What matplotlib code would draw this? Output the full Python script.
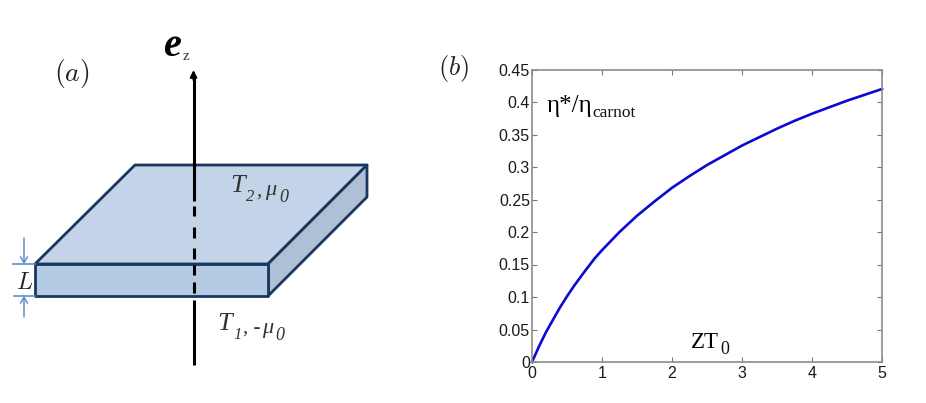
import matplotlib
matplotlib.use('Agg')
import matplotlib.pyplot as plt
from matplotlib.patches import Polygon

plt.rcParams['font.family'] = ['Liberation Sans', 'DejaVu Sans']
plt.rcParams['mathtext.fontset'] = 'cm'

# curve in panel (b)
zt = [0, 0.05, 0.1, 0.2, 0.3, 0.4, 0.5, 0.6, 0.75, 0.9, 1, 1.25, 1.5, 1.75, 2, 2.25, 2.5, 2.75, 3, 3.25, 3.5, 3.75, 4, 4.5, 5]
eta = [0, 0.012, 0.024, 0.046, 0.065, 0.084, 0.101, 0.117, 0.139, 0.16, 0.172, 0.2, 0.225, 0.247, 0.268, 0.286, 0.303, 0.318,
       0.333, 0.346, 0.359, 0.371, 0.382, 0.402, 0.42]
xticks = [0, 1, 2, 3, 4, 5]
yticks = [0, 0.05, 0.1, 0.15, 0.2, 0.25, 0.3, 0.35, 0.4, 0.45]
ylabels = ['0', '0.05', '0.1', '0.15', '0.2', '0.25', '0.3', '0.35', '0.4', '0.45']

# slab sketch in panel (a), image pixels
top_face = [(135, 165), (367, 165), (268, 264), (35, 264)]
front_face = [(35, 264), (268, 264), (268, 296), (35, 296)]
side_face = [(268, 264), (367, 165), (367, 197), (268, 296)]
axis_upper = (77, 201)
axis_dashes = [(206, 216), (227, 238), (248, 259), (265, 275), (282, 293)]
axis_lower = (300, 365)
axis_x = 193.5

W, H = 926, 403
fig = plt.figure(figsize=(W/100, H/100), dpi=100)

# panel (a) drawn in pixel coords
bg = fig.add_axes([0, 0, 1, 1])
bg.set_xlim(0, W)
bg.set_ylim(H, 0)
bg.axis('off')

edge = '#17375e'
bg.add_patch(Polygon(top_face, closed=True, fc='#c3d3e8', ec=edge, lw=2, joinstyle='round', zorder=1))
bg.add_patch(Polygon(side_face, closed=True, fc='#afbfd4', ec=edge, lw=2, joinstyle='round', zorder=1))
bg.add_patch(Polygon(front_face, closed=True, fc='#b5cae3', ec=edge, lw=2, joinstyle='round', zorder=1))

bg.plot([axis_x, axis_x], axis_upper, color='black', lw=2.2, zorder=3, solid_capstyle='butt')
bg.plot([axis_x, axis_x], axis_lower, color='black', lw=2.2, zorder=3, solid_capstyle='butt')
for d in axis_dashes:
    bg.plot([axis_x, axis_x], d, color='black', lw=2.2, zorder=3, solid_capstyle='butt')
bg.annotate('', xy=(axis_x, 70), xytext=(axis_x, 80), zorder=3,
            arrowprops=dict(arrowstyle='-|>,head_width=0.2,head_length=0.4', color='black', lw=1.5, shrinkA=0, shrinkB=0))

# L markers
blue = '#5b8fc7'
bg.plot([13, 35], [264, 264], color=blue, lw=1.2)
bg.plot([14, 35], [296, 296], color=blue, lw=1.2)
bg.annotate('', xy=(24, 264), xytext=(24, 238),
            arrowprops=dict(arrowstyle='->,head_width=0.25,head_length=0.4', color=blue, lw=1.1, shrinkA=0, shrinkB=0))
bg.annotate('', xy=(24, 296), xytext=(24, 317),
            arrowprops=dict(arrowstyle='->,head_width=0.25,head_length=0.4', color=blue, lw=1.1, shrinkA=0, shrinkB=0))

grey = '#333333'
serif = 'Liberation Serif'
bg.text(25, 283, r'$L$', fontsize=17, ha='center', va='center', color='#222222')
bg.text(72, 74, r'$(a)$', fontsize=20, ha='center', va='center', color='#222222')
bg.text(454, 69, r'$(b)$', fontsize=19, ha='center', va='center', color='#222222')
bg.text(172, 46, 'e', fontsize=29, ha='center', va='center', color='black',
        family=serif, style='italic', weight='bold')
bg.text(186, 57, 'z', fontsize=11, ha='center', va='center', color=grey, family=serif)

bg.text(230, 186, 'T', fontsize=19, va='center', color=grey, family=serif, style='italic')
bg.text(246, 197, '2', fontsize=12, va='center', color=grey, family=serif, style='italic')
bg.text(256, 191, ',', fontsize=15, va='center', color=grey, family=serif, style='italic')
bg.text(265, 191, '\u03bc', fontsize=16, va='center', color=grey, family=serif, style='italic')
bg.text(279, 197, '0', fontsize=13, va='center', color=grey, family=serif, style='italic')

bg.text(217, 324, 'T', fontsize=19, va='center', color=grey, family=serif, style='italic')
bg.text(233, 335, '1', fontsize=12, va='center', color=grey, family=serif, style='italic')
bg.text(243, 329, ', -', fontsize=15, va='center', color=grey, family=serif, style='italic')
bg.text(262, 329, '\u03bc', fontsize=16, va='center', color=grey, family=serif, style='italic')
bg.text(275, 335, '0', fontsize=13, va='center', color=grey, family=serif, style='italic')

# panel (b)
left, right, top, bottom = 532, 882, 69.5, 362
ax = fig.add_axes([left/W, 1 - bottom/H, (right-left)/W, (bottom-top)/H])
ax.patch.set_alpha(0)
ax.plot(zt, eta, color='#0a0ad2', lw=1.9, clip_on=False)
ax.set_xlim(0, 5)
ax.set_ylim(0, 0.45)
ax.set_xticks(xticks)
ax.set_yticks(yticks)
ax.set_yticklabels(ylabels)
ax.tick_params(direction='in', length=3.5, width=0.8, color='#777777', top=True, right=True,
               labelsize=11.5, labelcolor='#1a1a1a')
ax.tick_params(axis='x', pad=3)
ax.tick_params(axis='y', pad=1.5)
for s in ax.spines.values():
    s.set_color('#8c8c8c')
    s.set_linewidth(1.2)

bg.text(547, 106, '\u03b7*/\u03b7', fontsize=18, va='center', family=serif, color='black')
bg.text(592, 113, 'carnot', fontsize=12.5, va='center', family=serif, color='#111111')
bg.text(691, 343, 'ZT', fontsize=16.5, va='center', family=serif, color='black')
bg.text(720, 349, '0', fontsize=13, va='center', family=serif, color='#111111')

fig.savefig('out.png', dpi=100)
